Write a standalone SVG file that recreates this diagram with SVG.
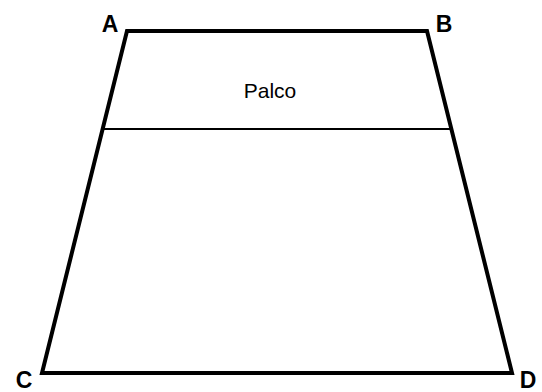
<svg xmlns="http://www.w3.org/2000/svg" width="542" height="392" viewBox="0 0 542 392">
<style>
.edge{fill:none;stroke:#000;stroke-width:4;stroke-linejoin:miter}
.sep{stroke:#000;stroke-width:2}
.lbl{font-family:"Liberation Sans",Arial,sans-serif;font-weight:bold;font-size:23px;fill:#000}
.txt{font-family:"Liberation Sans",Arial,sans-serif;font-size:21px;fill:#000}
</style>
<rect width="542" height="392" fill="#fff"/>
<g id="shape">
<polygon class="edge" points="127,31 427,31 512,373 42,373"/>
</g>
<g id="connectors">
<line class="sep" x1="102.6" y1="129" x2="451.4" y2="129"/>
</g>
<g id="stage">
<text class="txt" x="270" y="98" text-anchor="middle">Palco</text>
</g>
<g id="labels">
<text class="lbl" x="110" y="32" text-anchor="middle">A</text>
<text class="lbl" x="444" y="32" text-anchor="middle">B</text>
<text class="lbl" x="24" y="388" text-anchor="middle">C</text>
<text class="lbl" x="528" y="388" text-anchor="middle">D</text>
</g>
</svg>
